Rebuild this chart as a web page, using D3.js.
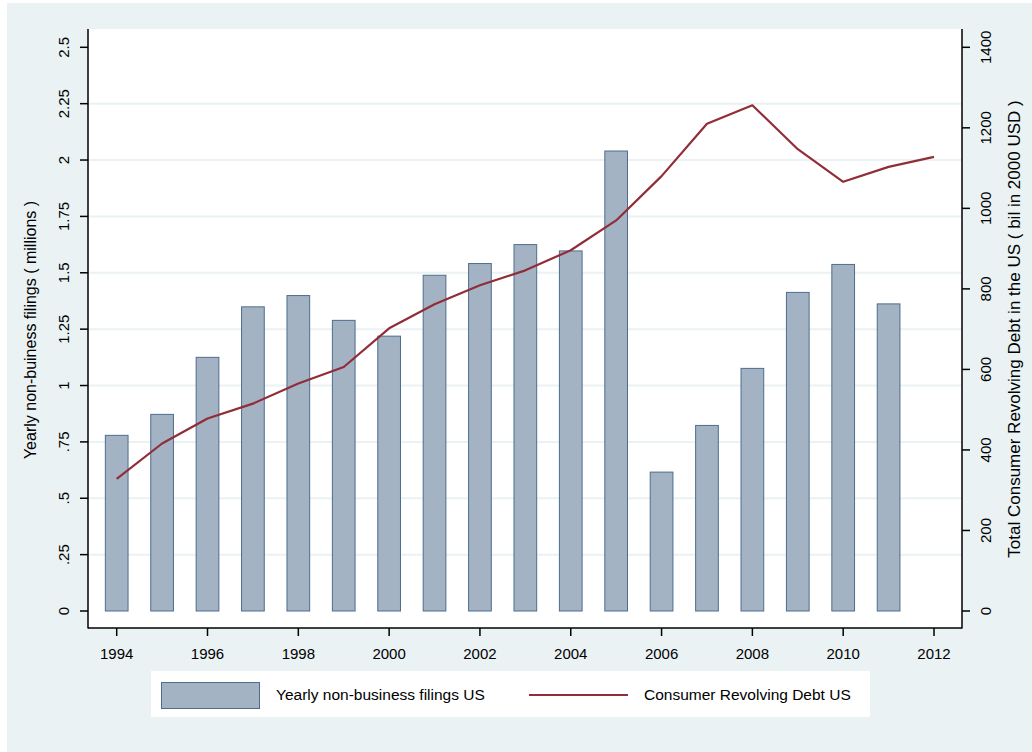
<!DOCTYPE html>
<html><head><meta charset="utf-8">
<script src="https://cdn.jsdelivr.net/npm/d3@7"></script>
<style>body{margin:0;background:#fff}svg{display:block}text{font-family:"Liberation Sans",Arial,sans-serif;fill:#000}</style>
</head><body><svg id="c" width="1032" height="752"></svg>
<script>
const years = [1994,1995,1996,1997,1998,1999,2000,2001,2002,2003,2004,2005,2006,2007,2008,2009,2010,2011,2012];
const filingYears = [1994,1995,1996,1997,1998,1999,2000,2001,2002,2003,2004,2005,2006,2007,2008,2009,2010,2011];
const filings = [0.779,0.872,1.125,1.349,1.399,1.289,1.219,1.489,1.541,1.625,1.597,2.040,0.616,0.823,1.076,1.413,1.537,1.362];
const debt = [328,416,478,515,565,606,702,762,809,846,896,970,1080,1210,1256,1147,1066,1103,1128];
const leftTicks = [0,0.25,0.5,0.75,1,1.25,1.5,1.75,2,2.25,2.5];
const leftTickLabels = ["0",".25",".5",".75","1","1.25","1.5","1.75","2","2.25","2.5"];
const rightTicks = [0,200,400,600,800,1000,1200,1400];
const xTicks = [1994,1996,1998,2000,2002,2004,2006,2008,2010,2012];
const leftTitle = "Yearly non-buiness filings ( millions )";
const rightTitle = "Total Consumer Revolving Debt in the US ( bil in 2000 USD )";
const legendLabels = ["Yearly non-business filings US","Consumer Revolving Debt US"];

const svg = d3.select("#c");
const bg = "#eaf2f3", barFill = "#a3b3c3", barStroke = "#4d6d8d", lineCol = "#902d37";
svg.append("rect").attr("x",7).attr("y",3).attr("width",1025).attr("height",749).attr("fill",bg);

const P = {l:88, r:962, t:29, b:628};
svg.append("rect").attr("x",P.l).attr("y",P.t).attr("width",P.r-P.l).attr("height",P.b-P.t).attr("fill","#fff");

const x = d3.scaleLinear().domain([1994,2012]).range([116.7,934]);
const yL = d3.scaleLinear().domain([0,2.5]).range([611,47.3]);
const yR = d3.scaleLinear().domain([0,1400]).range([611,47.3]);

// grid
svg.append("g").selectAll("line").data(leftTicks.filter(d=>d>0&&d<2.5)).join("line")
  .attr("x1",P.l).attr("x2",P.r).attr("y1",d=>yL(d)).attr("y2",d=>yL(d))
  .attr("stroke",bg).attr("stroke-width",2);

// bars
const bw = (x(1995)-x(1994))*0.5;
svg.append("g").selectAll("rect").data(filings).join("rect")
  .attr("x",(d,i)=>x(filingYears[i])-bw/2).attr("width",bw)
  .attr("y",d=>yL(d)).attr("height",d=>yL(0)-yL(d))
  .attr("fill",barFill).attr("stroke",barStroke).attr("stroke-width",1);

// line
svg.append("path").datum(debt)
  .attr("d",d3.line().x((d,i)=>x(years[i])).y(d=>yR(d)))
  .attr("fill","none").attr("stroke",lineCol).attr("stroke-width",2.2).attr("stroke-linejoin","round");

// axes
const fs = 15;
const ga = svg.append("g");
ga.append("line").attr("x1",P.l).attr("x2",P.l).attr("y1",P.t).attr("y2",P.b+0.5).attr("stroke","#000").attr("stroke-width",1.5);
ga.append("line").attr("x1",P.r).attr("x2",P.r).attr("y1",P.t).attr("y2",P.b+0.5).attr("stroke","#000").attr("stroke-width",1.5);
ga.append("line").attr("x1",P.l).attr("x2",P.r).attr("y1",P.b).attr("y2",P.b).attr("stroke","#000").attr("stroke-width",1.5);

leftTicks.forEach((t,i)=>{
  const y = yL(t);
  ga.append("line").attr("x1",P.l-8).attr("x2",P.l).attr("y1",y).attr("y2",y).attr("stroke","#000").attr("stroke-width",1.5);
  ga.append("text").attr("transform",`translate(69,${y}) rotate(-90)`).attr("text-anchor","middle")
    .attr("font-size",fs).text(leftTickLabels[i]);
});
rightTicks.forEach(t=>{
  const y = yR(t);
  ga.append("line").attr("x1",P.r).attr("x2",P.r+8).attr("y1",y).attr("y2",y).attr("stroke","#000").attr("stroke-width",1.5);
  ga.append("text").attr("transform",`translate(991,${y}) rotate(-90)`).attr("text-anchor","middle")
    .attr("font-size",fs).text(t);
});
xTicks.forEach(t=>{
  const xx = x(t);
  ga.append("line").attr("x1",xx).attr("x2",xx).attr("y1",P.b).attr("y2",P.b+8).attr("stroke","#000").attr("stroke-width",1.5);
  ga.append("text").attr("x",xx).attr("y",659).attr("text-anchor","middle").attr("font-size",fs).text(t);
});
ga.append("text").attr("transform",`translate(36,330) rotate(-90)`).attr("text-anchor","middle")
  .attr("font-size",16).text(leftTitle);
ga.append("text").attr("transform",`translate(1020,329) rotate(-90)`).attr("text-anchor","middle")
  .attr("font-size",17).text(rightTitle);

// legend
const lg = svg.append("g");
lg.append("rect").attr("x",151).attr("y",671).attr("width",719).attr("height",46).attr("fill","#fff");
lg.append("rect").attr("x",161.5).attr("y",682.5).attr("width",98).attr("height",26).attr("fill",barFill).attr("stroke",barStroke);
lg.append("text").attr("x",276).attr("y",700).attr("font-size",15.5).text(legendLabels[0]);
lg.append("line").attr("x1",529).attr("x2",628).attr("y1",695).attr("y2",695).attr("stroke",lineCol).attr("stroke-width",2.2);
lg.append("text").attr("x",644).attr("y",700).attr("font-size",15.5).text(legendLabels[1]);
</script></body></html>
